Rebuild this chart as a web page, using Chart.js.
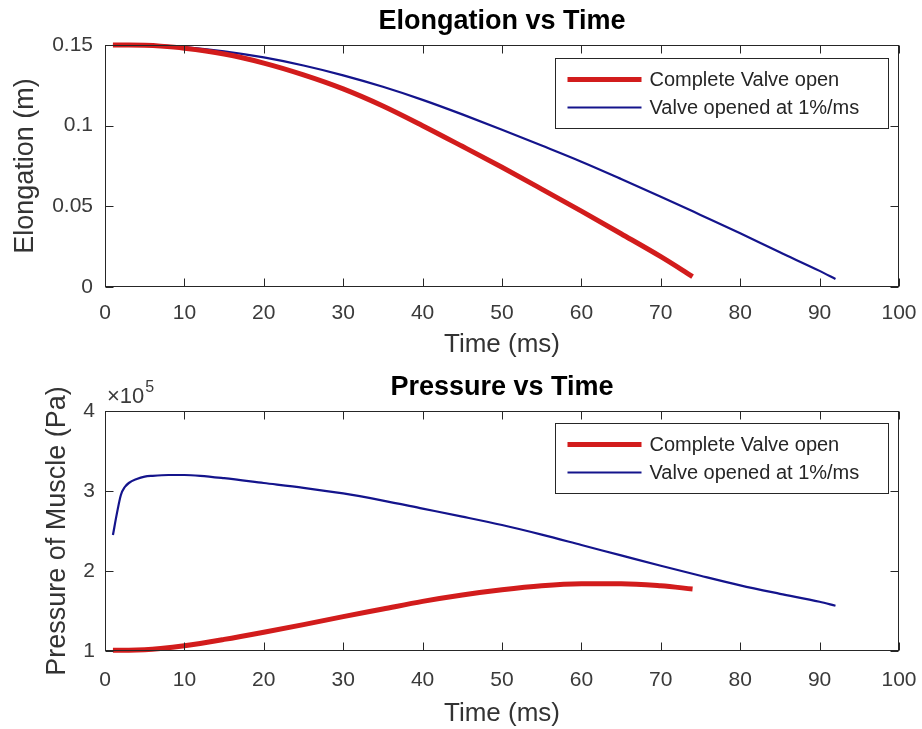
<!DOCTYPE html>
<html><head><meta charset="utf-8">
<script src="https://cdn.jsdelivr.net/npm/chart.js@4.4.1/dist/chart.umd.min.js"></script>
<style>
html,body{margin:0;padding:0;background:#fff;}
#wrap{position:relative;width:922px;height:729px;overflow:hidden;}
canvas{position:absolute;left:0;}
</style></head><body>
<div id="wrap">
<canvas id="c1" width="922" height="364" style="top:0"></canvas>
<canvas id="c2" width="922" height="365" style="top:364px"></canvas>
</div>
<script>
// ---- data ----
const seriesLabels = ['Complete Valve open', 'Valve opened at 1%/ms'];
const timeTicks = [0,10,20,30,40,50,60,70,80,90,100];
const elongTicks = [0, 0.05, 0.1, 0.15];
const pressureTicks = [100000, 200000, 300000, 400000];

const elongTimeComplete = [1,3,5,7,10,15,20,25,30,35,40,45,50,55,60,65,70,74];
const elongComplete = [0.1500,0.1500,0.1498,0.1493,0.1480,0.1444,0.1388,0.1315,0.1228,0.1122,0.1000,0.0872,0.0742,0.0607,0.0470,0.0330,0.0188,0.0065];

const elongTimeValve = [1,3,5,7,10,15,20,25,30,35,40,45,50,55,60,65,70,75,80,85,90,92];
const elongValve = [0.1500,0.1500,0.1499,0.1496,0.1487,0.1461,0.1423,0.1373,0.1312,0.1241,0.1160,0.1070,0.0975,0.0877,0.0777,0.0670,0.0560,0.0447,0.0333,0.0215,0.0100,0.0050];

const presTimeComplete = [1,3,5,7,10,15,20,25,30,35,40,45,50,55,60,65,70,74];
const presComplete = [101000,101000,101500,103000,106500,114500,123500,133000,143000,152500,162000,170000,176500,181500,184000,184200,181500,177500];

const presTimeValve = [1,1.5,2,2.5,3,4,5,6,8,10,12,15,20,25,30,35,40,45,50,55,60,65,70,75,80,85,90,92];
const presValve = [245000,272000,295000,305000,310000,315000,318000,319000,320000,320000,319000,316000,310000,304000,297000,288000,278000,268000,257500,245500,232500,219500,206500,194000,182000,171500,161500,156500];

// ---- helpers ----
const FONT = '"Liberation Sans", Arial, Helvetica, sans-serif';
const RED = '#d21c1c', BLUE = '#14148c';
const pts = (xs, ys) => xs.map((x, i) => ({x, y: ys[i]}));

const matlabPlugin = {
  id: 'matlab',
  afterDraw(chart, args, o) {
    const ctx = chart.ctx, a = chart.chartArea;
    const xs = chart.scales.x, ys = chart.scales.y;
    ctx.save();
    ctx.strokeStyle = '#262626';
    ctx.lineWidth = 1;
    const L = 8;
    const l = Math.round(a.left) + 0.5, r = Math.round(a.right) - 0.5;
    const t = Math.round(a.top) + 0.5, b = Math.round(a.bottom) - 0.5;
    ctx.beginPath();
    xs.ticks.forEach(tk => {
      const px = Math.round(xs.getPixelForValue(tk.value)) + 0.5;
      ctx.moveTo(px, b); ctx.lineTo(px, b - L);
      ctx.moveTo(px, t); ctx.lineTo(px, t + L);
    });
    ys.ticks.forEach(tk => {
      const py = Math.round(ys.getPixelForValue(tk.value)) + 0.5;
      ctx.moveTo(l, py); ctx.lineTo(l + L, py);
      ctx.moveTo(r, py); ctx.lineTo(r - L, py);
    });
    ctx.stroke();
    ctx.strokeRect(l, t, r - l, b - t);

    // title
    ctx.fillStyle = '#000';
    ctx.font = 'bold 27px ' + FONT;
    ctx.textAlign = 'center';
    ctx.textBaseline = 'middle';
    ctx.fillText(o.title, (a.left + a.right) / 2, o.titleY);

    // exponent
    if (o.exponent) {
      ctx.fillStyle = '#3a3a3a';
      ctx.textAlign = 'left';
      ctx.textBaseline = 'alphabetic';
      ctx.font = '22px ' + FONT;
      ctx.fillText('\u00d710', a.left + 2, a.top - 8);
      const w = ctx.measureText('\u00d710').width;
      ctx.font = '16px ' + FONT;
      ctx.fillText(o.exponent, a.left + 2 + w + 1, a.top - 19);
    }

    // legend
    const bw = 333, bh = 70;
    const bx = Math.round(a.right - 11 - bw) + 0.5, by = Math.round(a.top + o.legendTop) + 0.5;
    ctx.fillStyle = '#fff';
    ctx.fillRect(bx, by, bw, bh);
    ctx.strokeStyle = '#262626';
    ctx.lineWidth = 1;
    ctx.strokeRect(bx, by, bw, bh);
    ctx.font = '20px ' + FONT;
    ctx.textAlign = 'left';
    ctx.textBaseline = 'middle';
    chart.data.datasets.forEach((ds, i) => {
      const yy = by + 21 + i * 28;
      ctx.strokeStyle = ds.borderColor;
      ctx.lineWidth = ds.borderWidth;
      ctx.beginPath();
      ctx.moveTo(bx + 12, yy); ctx.lineTo(bx + 86, yy);
      ctx.stroke();
      ctx.fillStyle = '#262626';
      ctx.fillText(ds.label, bx + 94, yy + 1);
    });
    ctx.restore();
  }
};

function makeChart(id, cfg) {
  return new Chart(document.getElementById(id), {
    type: 'line',
    data: {
      datasets: [
        {label: seriesLabels[0], data: cfg.red, borderColor: RED, borderWidth: 5, pointRadius: 0, fill: false, cubicInterpolationMode: 'monotone', clip: false, borderCapStyle: 'butt'},
        {label: seriesLabels[1], data: cfg.blue, borderColor: BLUE, borderWidth: 2.2, pointRadius: 0, fill: false, cubicInterpolationMode: 'monotone', clip: false}
      ]
    },
    options: {
      responsive: false,
      animation: false,
      events: [],
      layout: {padding: {top: cfg.padTop, right: 23, left: 0, bottom: 0}},
      plugins: {
        legend: {display: false},
        tooltip: {enabled: false},
        title: {display: false},
        matlab: {title: cfg.title, titleY: cfg.titleY, exponent: cfg.exponent, legendTop: cfg.legendTop}
      },
      scales: {
        x: {
          type: 'linear', min: 0, max: 100,
          afterBuildTicks: s => { s.ticks = timeTicks.map(v => ({value: v})); },
          afterFit: s => { s.height = cfg.xHeight; s.paddingLeft = 0; s.paddingRight = 0; },
          grid: {display: false, drawTicks: false},
          border: {display: false},
          ticks: {padding: cfg.xTickPad, autoSkip: false, maxRotation: 0, color: '#3a3a3a', font: {family: FONT, size: 21}},
          title: {display: true, text: 'Time (ms)', color: '#333', font: {family: FONT, size: 26}, padding: {top: 0, bottom: cfg.xTitlePad}}
        },
        y: {
          type: 'linear', min: cfg.yMin, max: cfg.yMax,
          afterBuildTicks: s => { s.ticks = cfg.yTicks.map(v => ({value: v})); },
          afterFit: s => { s.width = 105; s.paddingTop = 0; s.paddingBottom = 0; },
          grid: {display: false, drawTicks: false},
          border: {display: false},
          ticks: {padding: cfg.yTickPad, color: '#3a3a3a', font: {family: FONT, size: 21}, callback: cfg.yFmt},
          title: {display: true, text: cfg.yTitle, color: '#333', font: {family: FONT, size: 27}, padding: {top: cfg.yTitlePad, bottom: 0}}
        }
      }
    },
    plugins: [matlabPlugin]
  });
}

makeChart('c1', {
  red: pts(elongTimeComplete, elongComplete),
  blue: pts(elongTimeValve, elongValve),
  title: 'Elongation vs Time', titleY: 22,
  padTop: 45, xHeight: 77, xTickPad: 14, xTitlePad: 4,
  yMin: 0, yMax: 0.15, yTicks: elongTicks, yTickPad: 12,
  yFmt: v => String(Number(v.toFixed(2))),
  yTitle: 'Elongation (m)', yTitlePad: 9, legendTop: 13
});

makeChart('c2', {
  red: pts(presTimeComplete, presComplete),
  blue: pts(presTimeValve, presValve),
  title: 'Pressure vs Time', titleY: 24, exponent: '5',
  padTop: 47, xHeight: 78, xTickPad: 17, xTitlePad: 0,
  yMin: 100000, yMax: 400000, yTicks: pressureTicks, yTickPad: 10,
  yFmt: v => String(Math.round(v / 100000)),
  yTitle: 'Pressure of Muscle (Pa)', yTitlePad: 41, legendTop: 12
});
</script>
</body></html>
